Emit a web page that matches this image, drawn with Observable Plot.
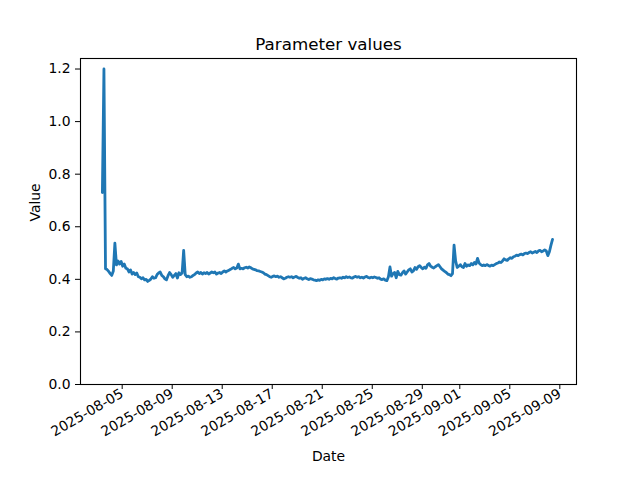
<!DOCTYPE html>
<html>
<head>
<meta charset="utf-8">
<script src="https://cdn.jsdelivr.net/npm/d3@7"></script>
<script src="https://cdn.jsdelivr.net/npm/@observablehq/plot@0.6"></script>
<style>
  html, body { margin: 0; padding: 0; background: white; }
</style>
</head>
<body>
<div id="chart"></div>
<script>
// Series: one reading every 3 hours, starting at startTime
const startTime = "2025-08-03T10:00:00Z";
const stepHours = 3;
const values = [
  0.73, 1.20, 0.44, 0.437, 0.43, 0.422, 0.415, 0.432,
  0.538, 0.455, 0.47, 0.458, 0.468, 0.45, 0.458, 0.442,
  0.44, 0.428, 0.436, 0.42, 0.426, 0.418, 0.424, 0.41,
  0.408, 0.402, 0.406, 0.398, 0.40, 0.392, 0.396, 0.401,
  0.41, 0.404, 0.406, 0.418, 0.424, 0.428, 0.415, 0.41,
  0.402, 0.398, 0.414, 0.426, 0.418, 0.408, 0.415, 0.422,
  0.405, 0.425, 0.418, 0.424, 0.51, 0.418, 0.41, 0.412,
  0.408, 0.41, 0.415, 0.418, 0.424, 0.428, 0.422, 0.426,
  0.42, 0.425, 0.422, 0.426, 0.42, 0.424, 0.428, 0.425,
  0.428, 0.42, 0.424, 0.426, 0.422, 0.428, 0.432, 0.428,
  0.432, 0.435, 0.438, 0.442, 0.445, 0.44, 0.443, 0.458,
  0.44, 0.442, 0.44, 0.444, 0.446, 0.443, 0.447, 0.444,
  0.44, 0.438, 0.436, 0.433, 0.432, 0.43, 0.428, 0.425,
  0.42, 0.418, 0.414, 0.41, 0.408, 0.411, 0.413, 0.41,
  0.412, 0.408, 0.41, 0.406, 0.402, 0.404, 0.408, 0.41,
  0.408, 0.41, 0.406, 0.409, 0.411, 0.407, 0.404, 0.406,
  0.40, 0.404, 0.406, 0.402, 0.399, 0.403, 0.401, 0.398,
  0.397, 0.395, 0.398, 0.396, 0.40, 0.398, 0.402, 0.40,
  0.403, 0.40, 0.404, 0.402, 0.406, 0.403, 0.401, 0.405,
  0.406, 0.404, 0.408, 0.406, 0.41, 0.407, 0.409, 0.406,
  0.405, 0.409, 0.411, 0.408, 0.41, 0.406, 0.408, 0.405,
  0.409, 0.411, 0.407, 0.405, 0.408, 0.406, 0.409, 0.407,
  0.404, 0.406, 0.401, 0.399, 0.402, 0.397, 0.395, 0.41,
  0.447, 0.412, 0.422, 0.426, 0.406, 0.43, 0.418, 0.416,
  0.425, 0.432, 0.42, 0.428, 0.436, 0.44, 0.428, 0.432,
  0.445, 0.438, 0.448, 0.452, 0.445, 0.44, 0.446, 0.442,
  0.455, 0.46, 0.45, 0.446, 0.443, 0.448, 0.452, 0.456,
  0.448, 0.44, 0.435, 0.43, 0.426, 0.42, 0.418, 0.414,
  0.422, 0.53, 0.47, 0.445, 0.45, 0.456, 0.448, 0.445,
  0.46, 0.45, 0.455, 0.452, 0.46, 0.455, 0.464, 0.458,
  0.48, 0.462, 0.456, 0.452, 0.455, 0.452, 0.456, 0.453,
  0.45, 0.454, 0.452, 0.456, 0.46, 0.462, 0.466, 0.464,
  0.47, 0.478, 0.474, 0.472, 0.478, 0.482, 0.48, 0.486,
  0.488, 0.492, 0.49, 0.494, 0.496, 0.493, 0.498, 0.50,
  0.498, 0.502, 0.505, 0.50, 0.503, 0.506, 0.502, 0.508,
  0.51, 0.505, 0.508, 0.512, 0.508, 0.49, 0.505, 0.53,
  0.552
];
const xDomain = ["2025-08-01T16:00:00Z", "2025-09-10T08:00:00Z"];
const xTicks = ["2025-08-05", "2025-08-09", "2025-08-13", "2025-08-17", "2025-08-21",
                "2025-08-25", "2025-08-29", "2025-09-01", "2025-09-05", "2025-09-09"];
const yDomain = [0, 1.24];
const yTicks = [0.0, 0.2, 0.4, 0.6, 0.8, 1.0, 1.2];
const title = "Parameter values";
const xLabel = "Date";
const yLabel = "Value";

const t0 = new Date(startTime).getTime();
const data = values.map((v, i) => ({date: new Date(t0 + i * stepHours * 3600 * 1000), value: v}));

const chart = Plot.plot({
  width: 640,
  height: 480,
  marginLeft: 80,
  marginRight: 64,
  marginTop: 58,
  marginBottom: 96,
  style: {fontFamily: "DejaVu Sans", fontSize: "13.9px", background: "white", color: "black"},
  x: {type: "utc", domain: xDomain.map(d => new Date(d))},
  y: {domain: yDomain},
  marks: [
    Plot.line(data, {x: "date", y: "value", stroke: "#1f77b4", strokeWidth: 2.8, strokeLinejoin: "round"}),
    Plot.frame({stroke: "black", strokeWidth: 1.1}),
    Plot.axisX({
      ticks: xTicks.map(d => new Date(d + "T00:00:00Z")),
      tickFormat: d3.utcFormat("%Y-%m-%d"),
      tickRotate: -30,
      tickSize: 5,
      tickPadding: 3,
      label: null,
      stroke: "black"
    }),
    Plot.axisY({
      ticks: yTicks,
      tickFormat: d => d.toFixed(1),
      tickSize: 5,
      tickPadding: 5,
      label: null,
      stroke: "black"
    }),
    Plot.text([title], {frameAnchor: "top", dy: -20, fontSize: 16.7, text: d => d}),
    Plot.text([yLabel], {frameAnchor: "left", dx: -45, rotate: -90, text: d => d}),
    Plot.text([xLabel], {frameAnchor: "bottom", dy: 76, text: d => d})
  ]
});
document.getElementById("chart").appendChild(chart);
</script>
</body>
</html>
